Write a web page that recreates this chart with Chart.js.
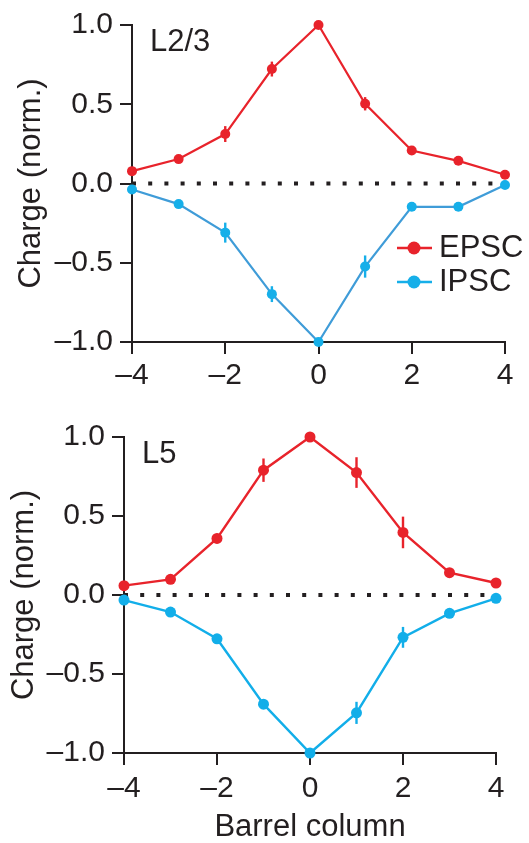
<!DOCTYPE html>
<html>
<head>
<meta charset="utf-8">
<script src="https://cdn.jsdelivr.net/npm/chart.js@4.4.1/dist/chart.umd.min.js"></script>
<style>
    body { margin: 0; background: #fff; }
    .panel { position: absolute; left: 0; width: 529px; }
    #topPanel { top: 0; height: 395px; }
    #bottomPanel { top: 395px; height: 448px; }
</style>
</head>
<body>
<div class="panel" id="topPanel"><canvas id="chartL23"></canvas></div>
<div class="panel" id="bottomPanel"><canvas id="chartL5"></canvas></div>
<script>
// barrel columns relative to the principal column
const columns = [-4, -3, -2, -1, 0, 1, 2, 3, 4];

// L2/3 normalized charge (mean) and error bars
const l23Epsc = [0.078, 0.154, 0.312, 0.722, 1.0, 0.503, 0.208, 0.143, 0.055];
const l23EpscErr = [0.01, 0.02, 0.05, 0.047, 0.01, 0.042, 0.01, 0.01, 0.01];
const l23Ipsc = [-0.038, -0.13, -0.31, -0.698, -1.0, -0.524, -0.147, -0.147, -0.01];
const l23IpscErr = [0.01, 0.01, 0.063, 0.05, 0.01, 0.07, 0.01, 0.01, 0.01];

// L5 normalized charge (mean) and error bars
const l5Epsc = [0.059, 0.099, 0.358, 0.79, 1.0, 0.775, 0.396, 0.141, 0.076];
const l5EpscErr = [0.02, 0.01, 0.03, 0.074, 0.02, 0.097, 0.1, 0.02, 0.01];
const l5Ipsc = [-0.032, -0.108, -0.277, -0.691, -1.0, -0.746, -0.268, -0.116, -0.021];
const l5IpscErr = [0.01, 0.01, 0.02, 0.03, 0.01, 0.07, 0.066, 0.01, 0.01];

const yTicks = [-1, -0.5, 0, 0.5, 1];
const xTicks = [-4, -2, 0, 2, 4];

const INK = '#231f20';
const RED = '#e8232b';
const FONT = "'Liberation Sans', Arial, Helvetica, sans-serif";

const toPoints = (ys) => ys.map((y, i) => ({ x: columns[i], y: y }));
const dash = (v) => (v < 0 ? '\u2013' : '') + Math.abs(v);

// error bars, panel label and the small legend
const extras = {
    id: 'extras',
    afterDatasetsDraw(chart) {
        const ctx = chart.ctx;
        const opts = chart.options.plugins.extras;
        const xs = chart.scales.x, ys = chart.scales.y;
        ctx.save();
        chart.data.datasets.forEach(ds => {
            if (!ds.errors) return;
            ctx.strokeStyle = ds.pointBackgroundColor;
            ctx.lineWidth = 2.4;
            ds.data.forEach((p, i) => {
                const px = xs.getPixelForValue(p.x);
                ctx.beginPath();
                ctx.moveTo(px, ys.getPixelForValue(p.y + ds.errors[i]));
                ctx.lineTo(px, ys.getPixelForValue(p.y - ds.errors[i]));
                ctx.stroke();
            });
        });

        ctx.fillStyle = INK;
        ctx.font = '31px ' + FONT;
        ctx.textBaseline = 'alphabetic';
        ctx.textAlign = 'left';
        ctx.fillText(opts.label, chart.chartArea.left + 18, chart.chartArea.top + 25.5);

        if (opts.legend) {
            const items = chart.data.datasets.filter(ds => ds.label);
            items.forEach((ds, i) => {
                const y = 248 + i * 34;
                ctx.strokeStyle = ds.pointBackgroundColor;
                ctx.lineWidth = 2.4;
                ctx.beginPath();
                ctx.moveTo(397, y);
                ctx.lineTo(432, y);
                ctx.stroke();
                ctx.fillStyle = ds.pointBackgroundColor;
                ctx.beginPath();
                ctx.arc(414, y, 6.5, 0, Math.PI * 2);
                ctx.fill();
                ctx.fillStyle = INK;
                ctx.font = '31px ' + FONT;
                ctx.textBaseline = 'middle';
                ctx.fillText(ds.label, 439, y);
            });
        }
        ctx.restore();
    }
};

function makeChart(canvasId, cfg) {
    const series = (label, values, errors, line, fill, radius) => ({
        label: label,
        data: toPoints(values),
        errors: errors,
        borderColor: line,
        borderWidth: cfg.lineWidth,
        pointBackgroundColor: fill,
        pointBorderWidth: 0,
        pointRadius: radius,
        clip: false,
        order: 1
    });

    return new Chart(document.getElementById(canvasId), {
        type: 'line',
        data: {
            datasets: [
                {
                    data: [{ x: -4, y: 0 }, { x: 4, y: 0 }],
                    borderColor: INK,
                    borderWidth: 4,
                    borderDash: [4, 12.2],
                    pointRadius: 0,
                    clip: false,
                    order: 3
                },
                series('EPSC', cfg.epsc, cfg.epscErr, RED, RED, cfg.radius),
                series('IPSC', cfg.ipsc, cfg.ipscErr, cfg.blueLine, cfg.blueDot, cfg.radius)
            ]
        },
        options: {
            responsive: true,
            maintainAspectRatio: false,
            animation: false,
            events: [],
            layout: { padding: { left: 0, top: cfg.padTop, right: cfg.padRight, bottom: 0 } },
            plugins: {
                legend: { display: false },
                tooltip: { enabled: false },
                extras: { label: cfg.label, legend: cfg.legend }
            },
            scales: {
                x: {
                    type: 'linear',
                    min: -4,
                    max: 4,
                    afterBuildTicks: axis => { axis.ticks = xTicks.map(v => ({ value: v })); },
                    afterFit: axis => { axis.height = cfg.xHeight; },
                    grid: { drawOnChartArea: false, drawTicks: true, tickLength: 12, color: INK, lineWidth: 2 },
                    border: { display: true, color: INK, width: 2 },
                    ticks: {
                        padding: cfg.xPad,
                        color: INK,
                        maxRotation: 0,
                        font: { family: FONT, size: 30 },
                        callback: v => dash(v)
                    },
                    title: {
                        display: !!cfg.xTitle,
                        text: cfg.xTitle || '',
                        color: INK,
                        font: { family: FONT, size: 31, lineHeight: 1 },
                        padding: { top: 0, bottom: 0 }
                    }
                },
                y: {
                    min: -1,
                    max: 1,
                    afterBuildTicks: axis => { axis.ticks = yTicks.map(v => ({ value: v })); },
                    afterFit: axis => { axis.width = cfg.yWidth; },
                    grid: { drawOnChartArea: false, drawTicks: true, tickLength: 12, color: INK, lineWidth: 2 },
                    border: { display: true, color: INK, width: 2 },
                    ticks: {
                        padding: 7,
                        color: INK,
                        font: { family: FONT, size: 30 },
                        callback: v => (v < 0 ? '\u2013' : '') + Math.abs(v).toFixed(1)
                    },
                    title: {
                        display: true,
                        text: 'Charge (norm.)',
                        color: INK,
                        font: { family: FONT, size: 31, lineHeight: 1 },
                        padding: { top: cfg.yTitlePad, bottom: 0 }
                    }
                }
            }
        },
        plugins: [extras]
    });
}

makeChart('chartL23', {
    label: 'L2/3', legend: true,
    epsc: l23Epsc, epscErr: l23EpscErr, ipsc: l23Ipsc, ipscErr: l23IpscErr,
    blueLine: '#3f9cd8', blueDot: '#16afe9', radius: 5, lineWidth: 2.2,
    padTop: 25, padRight: 24, yWidth: 132, xHeight: 53, xPad: 4, yTitlePad: 15.5
});

makeChart('chartL5', {
    label: 'L5', legend: false,
    epsc: l5Epsc, epscErr: l5EpscErr, ipsc: l5Ipsc, ipscErr: l5IpscErr,
    blueLine: '#12aee9', blueDot: '#12aee9', radius: 5.5, lineWidth: 2.4,
    padTop: 42, padRight: 33, yWidth: 124, xHeight: 90, xPad: 6, yTitlePad: 8.5,
    xTitle: 'Barrel column'
});
</script>
</body>
</html>
